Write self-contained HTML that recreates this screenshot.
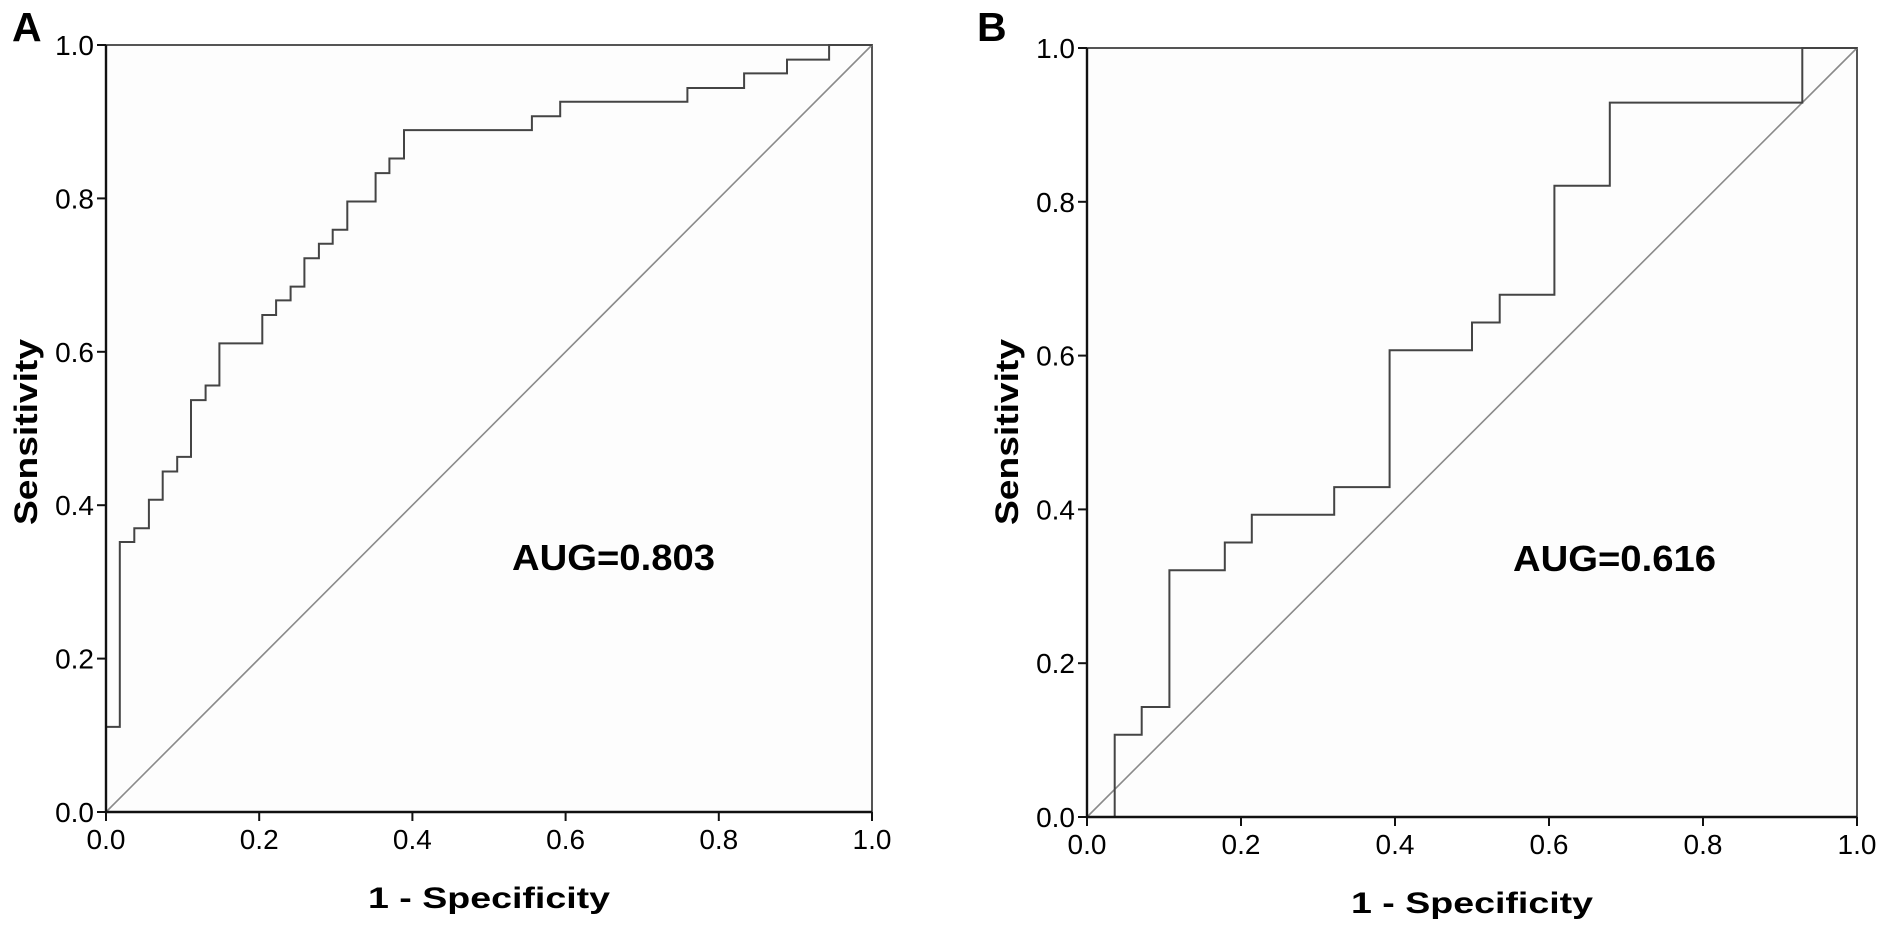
<!DOCTYPE html>
<html><head><meta charset="utf-8"><style>
html,body{margin:0;padding:0;background:#fff}
svg{display:block}
text{font-family:"Liberation Sans",Arial,sans-serif;fill:#000}
</style></head><body>
<svg id="fig" width="1890" height="940" viewBox="0 0 1890 940" xmlns="http://www.w3.org/2000/svg"></svg>
<script>
// Panel A data
const fprA = [0, 0.018, 0.037, 0.056, 0.074, 0.093, 0.111, 0.130, 0.148, 0.204, 0.222, 0.241, 0.259, 0.278, 0.296, 0.315, 0.352, 0.370, 0.389, 0.556, 0.593, 0.759, 0.833, 0.889, 0.944, 1.0];
const tprA = [0.111, 0.352, 0.370, 0.407, 0.444, 0.463, 0.537, 0.556, 0.611, 0.648, 0.667, 0.685, 0.722, 0.741, 0.759, 0.796, 0.833, 0.852, 0.889, 0.907, 0.926, 0.944, 0.963, 0.981, 1.0, 1.0];
// Panel B data
const fprB = [0.036, 0.071, 0.107, 0.179, 0.214, 0.321, 0.393, 0.500, 0.536, 0.607, 0.679, 0.929, 1.0];
const tprB = [0.107, 0.143, 0.321, 0.357, 0.393, 0.429, 0.607, 0.643, 0.679, 0.821, 0.929, 1.0, 1.0];
const tickVals = [0, 0.2, 0.4, 0.6, 0.8, 1.0];
const tickLabels = ["0.0", "0.2", "0.4", "0.6", "0.8", "1.0"];
const aucA = "AUG=0.803";
const aucB = "AUG=0.616";

const NS = "http://www.w3.org/2000/svg";
const svg = document.getElementById("fig");
function mk(tag, attrs, parent) {
  const e = document.createElementNS(NS, tag);
  for (const k in attrs) e.setAttribute(k, attrs[k]);
  (parent || svg).appendChild(e);
  return e;
}

function panel(p) {
  const g = mk("g", {});
  
  
  const sx = v => p.x0 + v * (p.x1 - p.x0);
  const sy = v => p.y0 - v * (p.y0 - p.y1);

  const bg = mk("rect", {x: p.x0, y: p.y1, width: p.x1 - p.x0, height: p.y0 - p.y1, fill: "#fdfdfd"}, g);
  
  

  const frame = mk("path", {d: `M${p.x0} ${p.y1} H${p.x1} V${p.y0}`, stroke: "#555", "stroke-width": 2, fill: "none"}, g);
  
  

  const diag = mk("line", {x1: sx(0), y1: sy(0), x2: sx(1), y2: sy(1), stroke: "#8a8a8a", "stroke-width": 1.6}, g);
  
  

  let d = `M${sx(0)} ${sy(0)}`;
  for (let i = 0; i < p.fpr.length; i++) {
    d += ` H${sx(p.fpr[i]).toFixed(1)} V${sy(p.tpr[i]).toFixed(1)}`;
  }
  const curve = mk("path", {d: d, stroke: "#444", "stroke-width": 2, fill: "none", "stroke-linejoin": "miter"}, g);
  
  

  const ax = mk("path", {d: `M${p.x0} ${p.y1} V${p.y0} H${p.x1}`, stroke: "#111", "stroke-width": 2.4, fill: "none"}, g);
  
  

  for (let i = 0; i < tickVals.length; i++) {
    const v = tickVals[i];
    const yt = mk("line", {x1: p.x0 - 9, x2: p.x0, y1: sy(v), y2: sy(v), stroke: "#111", "stroke-width": 2}, g);
    
    
    const yl = mk("text", {x: p.x0 - 12, y: sy(v) + 10, "text-anchor": "end", "font-size": 28}, g);
    yl.textContent = tickLabels[i];
    
    
    const xt = mk("line", {x1: sx(v), x2: sx(v), y1: p.y0, y2: p.y0 + 9, stroke: "#111", "stroke-width": 2}, g);
    
    
    const xl = mk("text", {x: sx(v), y: p.y0 + 37, "text-anchor": "middle", "font-size": 28}, g);
    xl.textContent = tickLabels[i];
    
    
  }

  const xt = mk("text", {x: (p.x0 + p.x1) / 2, y: p.y0 + 96, "text-anchor": "middle", "font-size": 30, "font-weight": "bold", textLength: 242, lengthAdjust: "spacingAndGlyphs"}, g);
  xt.textContent = "1 - Specificity";
  
  

  const yc = p.x0 - 80, ycy = 432;
  const ytl = mk("text", {x: 0, y: 0, "text-anchor": "middle", "font-size": 32, "font-weight": "bold", textLength: 186, lengthAdjust: "spacingAndGlyphs", transform: `translate(${yc + 11},${ycy}) rotate(-90)`}, g);
  ytl.textContent = "Sensitivity";
  
  

  const au = mk("text", {x: p.aucX, y: p.aucY, "font-size": 36, "font-weight": "bold", textLength: 203, lengthAdjust: "spacingAndGlyphs"}, g);
  au.textContent = p.auc;
  
  

  const lt = mk("text", {x: p.letterX, y: 41, "font-size": 41, "font-weight": "bold"}, g);
  lt.textContent = p.letter;
  
  
}

panel({id: "a", x0: 106, x1: 872, y0: 812, y1: 45, fpr: fprA, tpr: tprA, auc: aucA, aucX: 512, aucY: 570, letter: "A", letterX: 12});
panel({id: "b", x0: 1087, x1: 1857, y0: 817, y1: 48, fpr: fprB, tpr: tprB, auc: aucB, aucX: 1513, aucY: 571, letter: "B", letterX: 977});
</script>
</body></html>
